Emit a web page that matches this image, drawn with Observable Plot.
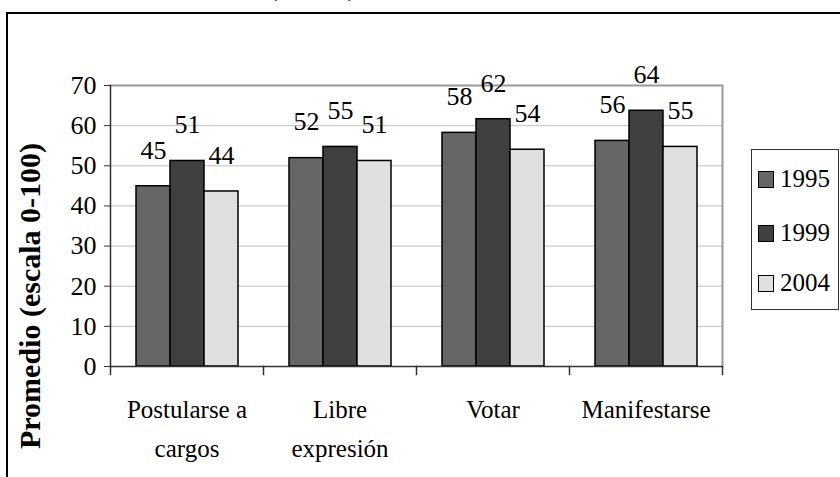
<!DOCTYPE html>
<html>
<head>
<meta charset="utf-8">
<script src="https://cdn.jsdelivr.net/npm/d3@7"></script>
<script src="https://cdn.jsdelivr.net/npm/@observablehq/plot@0.6"></script>
<style>
  html, body { margin: 0; padding: 0; background: #fff; }
  #wrap { position: relative; width: 840px; height: 477px; overflow: hidden; font-family: "Liberation Serif", serif; }
  #border { position: absolute; left: 6px; top: 12px; width: 900px; height: 600px; border: 2px solid #000; box-sizing: border-box; pointer-events: none; }
  #title { position: absolute; left: 0; width: 625px; text-align: center; top: -32px; font-size: 30px; font-weight: bold; font-family: "Liberation Serif", serif; }
  #legend { position: absolute; left: 751px; top: 149px; width: 88px; height: 161px; border: 1.5px solid #333; box-sizing: border-box; background: #fff; }
  .item { position: absolute; left: 6px; height: 30px; display: flex; align-items: center; font-size: 25px; font-family: "Times New Roman", "Liberation Serif", serif; }
  .sw { width: 14px; height: 15px; border: 1.5px solid #000; margin-right: 6px; }
</style>
</head>
<body>
<div id="wrap"></div>
<script>
const categories = ["Postularse a cargos", "Libre expresión", "Votar", "Manifestarse"];
const categoryLabels = ["Postularse a\ncargos", "Libre\nexpresión", "Votar", "Manifestarse"];
const years = ["1995", "1999", "2004"];
const values1995 = [44.9, 51.9, 58.2, 56.2];
const values1999 = [51.2, 54.7, 61.6, 63.7];
const values2004 = [43.6, 51.2, 54.0, 54.7];
const labels1995 = [45, 52, 58, 56];
const labels1999 = [51, 55, 62, 64];
const labels2004 = [44, 51, 54, 55];
const yTicks = [0, 10, 20, 30, 40, 50, 60, 70];
const colors = ["#666666", "#404040", "#e0e0e0"];
const yTitle = "Promedio (escala 0-100)";
const chartTitle = "(0-100)";
const FONT = '"Liberation Serif"';

const seriesValues = [values1995, values1999, values2004];
const seriesLabels = [labels1995, labels1999, labels2004];
const data = [];
categories.forEach((c, i) => {
  years.forEach((y, j) => {
    data.push({cat: c, year: y, value: seriesValues[j][i], label: seriesLabels[j][i]});
  });
});
const catData = categories.map((c, i) => ({cat: c, label: categoryLabels[i]}));

const chart = Plot.plot({
  width: 840,
  height: 477,
  marginLeft: 109,
  marginRight: 117,
  marginTop: 85,
  marginBottom: 111,
  fx: {domain: categories, padding: 0, axis: null, label: null},
  x: {domain: years, paddingInner: 0, paddingOuter: 0.74, axis: null},
  y: {domain: [0, 70]},
  color: {domain: years, range: colors},
  marks: [
    Plot.gridY(yTicks, {stroke: "#c0c0c0", strokeOpacity: 1, strokeWidth: 1}),
    Plot.ruleY([70], {stroke: "#999", strokeWidth: 2}),
    Plot.frame({anchor: "right", stroke: "#999", strokeWidth: 2, facetAnchor: "right"}),
    Plot.barY(data, {fx: "cat", x: "year", y: "value", fill: "year", stroke: "#000", strokeWidth: 1.5}),
    Plot.ruleY([0], {stroke: "#333", strokeWidth: 1.5}),
    Plot.frame({anchor: "left", stroke: "#333", strokeWidth: 1.5, facetAnchor: "left"}),
    Plot.frame({anchor: "left", stroke: "#333", strokeWidth: 1.5, insetTop: 281, insetBottom: -8}),
    Plot.frame({anchor: "right", stroke: "#333", strokeWidth: 1.5, insetTop: 281, insetBottom: -8, facetAnchor: "right"}),
    Plot.axisY(yTicks, {tickSize: 6, tickPadding: 8, fontSize: 26, fontFamily: FONT, label: null, stroke: "#333", fill: "#000"}),
    Plot.text([yTitle], {frameAnchor: "left", textAnchor: "middle", dx: -80, dy: 70, rotate: -90, fontSize: 30, fontWeight: "bold", fontFamily: FONT, facetAnchor: "left"}),
    Plot.text(data, {fx: "cat", x: "year", y: "value", text: "label", dy: -36, fontSize: 26, fontFamily: FONT}),
    Plot.text(catData, {fx: "cat", text: "label", frameAnchor: "bottom", lineAnchor: "top", dy: 24, lineHeight: 1.55, fontSize: 25, fontFamily: FONT})
  ]
});

const wrap = document.getElementById("wrap");
wrap.appendChild(chart);

const title = document.createElement("div");
title.id = "title";
title.textContent = chartTitle;
wrap.appendChild(title);

const border = document.createElement("div");
border.id = "border";
wrap.appendChild(border);

const legend = document.createElement("div");
legend.id = "legend";
const rowTops = [14, 68, 118];
years.forEach((y, j) => {
  const item = document.createElement("div");
  item.className = "item";
  item.style.top = rowTops[j] + "px";
  const sw = document.createElement("div");
  sw.className = "sw";
  sw.style.background = colors[j];
  const t = document.createElement("span");
  t.textContent = y;
  item.appendChild(sw);
  item.appendChild(t);
  legend.appendChild(item);
});
wrap.appendChild(legend);
</script>
</body>
</html>
